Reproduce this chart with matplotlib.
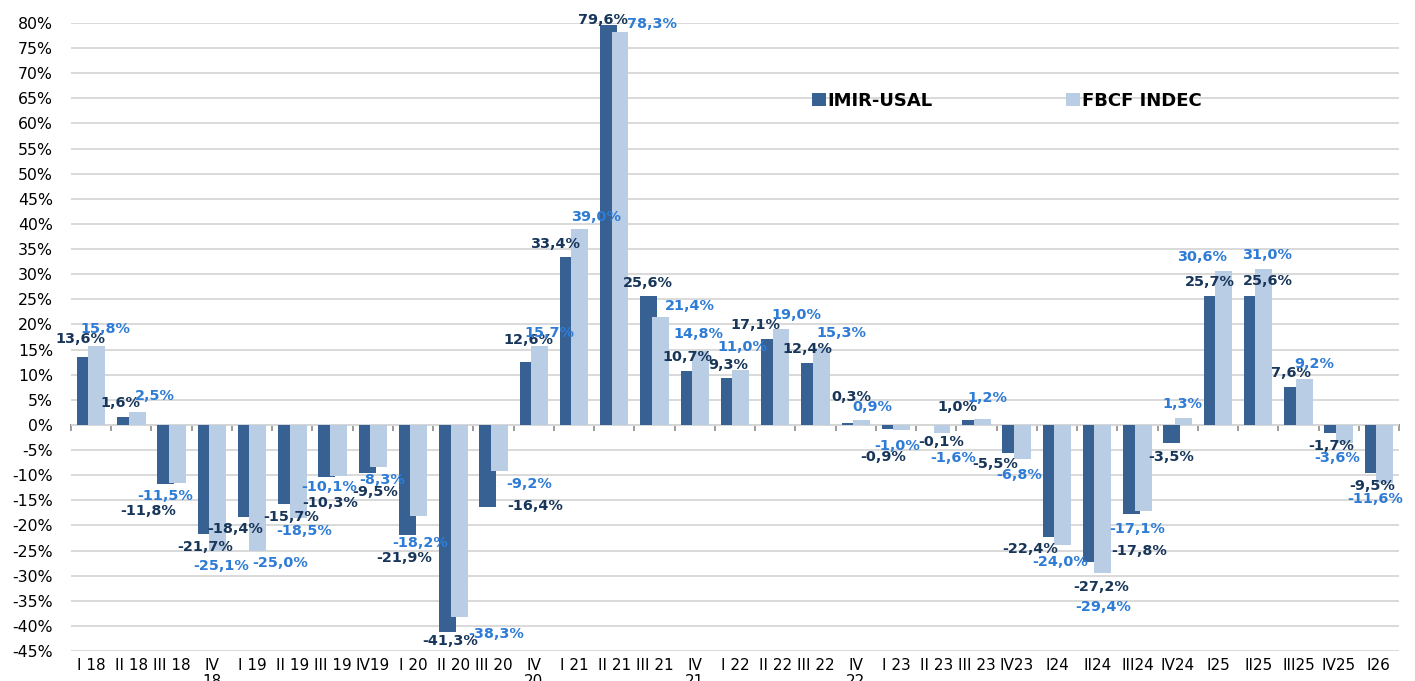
import numpy as np
import matplotlib
matplotlib.use("Agg")
import matplotlib.pyplot as plt

# quarters and year-on-year change (%)
quarters = ["I 18", "II 18", "III 18", "IV\n18", "I 19", "II 19", "III 19", "IV19",
            "I 20", "II 20", "III 20", "IV\n20", "I 21", "II 21", "III 21", "IV\n21",
            "I 22", "II 22", "III 22", "IV\n22", "I 23", "II 23", "III 23", "IV23",
            "I24", "II24", "III24", "IV24", "I25", "II25", "III25", "IV25", "I26"]

imir_usal = [13.6, 1.6, -11.8, -21.7, -18.4, -15.7, -10.3, -9.5,
             -21.9, -41.3, -16.4, 12.6, 33.4, 79.6, 25.6, 10.7,
             9.3, 17.1, 12.4, 0.3, -0.9, -0.1, 1.0, -5.5,
             -22.4, -27.2, -17.8, -3.5, 25.7, 25.6, 7.6, -1.7, -9.5]

fbcf_indec = [15.8, 2.5, -11.5, -25.1, -25.0, -18.5, -10.1, -8.3,
              -18.2, -38.3, -9.2, 15.7, 39.0, 78.3, 21.4, 14.8,
              11.0, 19.0, 15.3, 0.9, -1.0, -1.6, 1.2, -6.8,
              -24.0, -29.4, -17.1, 1.3, 30.6, 31.0, 9.2, -3.6, -11.6]

y_ticks = list(range(-45, 81, 5))

# label offsets from the bar end, in pixels (dx, dy up)
imir_offsets = [(-5, 18), (-5, 14), (-18, -27), (-1, -13), (-11, -12), (5, -13), (3, -26), (8, -19),
                (-3, -23), (3, -9), (47, 1), (0, 22), (-13, 13), (-6, 5), (-1, 13), (-2, 14),
                (-1, 13), (-14, 14), (-2, 14), (1, 26), (-7, -28), (11, -17), (-13, 13), (-16, -11),
                (-21, -12), (10, -25), (8, -37), (-1, -14), (-2, 14), (15, 15), (-2, 14), (-2, -13), (-1, -13)]
fbcf_offsets = [(9, 17), (18, 16), (-12, -13), (4, -15), (22, -12), (6, -13), (-9, -11), (4, -13),
                (1, -27), (37, -17), (30, -13), (10, 13), (16, 12), (32, 8), (30, 11), (-2, 17),
                (2, 23), (15, 14), (20, 15), (11, 13), (-5, -16), (11, -25), (5, 21), (-3, -16),
                (-3, -17), (0, -34), (-6, -18), (-1, 14), (-22, 14), (3, 14), (10, 15), (-7, -15), (-9, -16)]

DARK = "#376093"
LIGHT = "#B9CDE5"
DARK_TXT = "#18365A"
LIGHT_TXT = "#2E7CD6"


def pct(v):
    return f"{v:.1f}%".replace(".", ",")


fig = plt.figure(figsize=(14.15, 6.81), dpi=100)
ax = fig.add_axes([71 / 1415, 1 - 651 / 681, 1328 / 1415, 628 / 681])

x = np.arange(len(quarters))
off = 0.143
w = 0.42

ax.bar(x - off, imir_usal, width=w, color=DARK, zorder=2, label="IMIR-USAL")
ax.bar(x + off, fbcf_indec, width=w, color=LIGHT, zorder=3, label="FBCF INDEC")

for i, (v, (dx, dy)) in enumerate(zip(imir_usal, imir_offsets)):
    ax.annotate(pct(v), (i - off, v), xytext=(dx, dy), textcoords="offset pixels",
                ha="center", va="center", fontsize=10.4, fontweight="bold",
                color=DARK_TXT, zorder=5)
for i, (v, (dx, dy)) in enumerate(zip(fbcf_indec, fbcf_offsets)):
    ax.annotate(pct(v), (i + off, v), xytext=(dx, dy), textcoords="offset pixels",
                ha="center", va="center", fontsize=10.4, fontweight="bold",
                color=LIGHT_TXT, zorder=5)

ax.set_xlim(-0.5, len(quarters) - 0.5)
ax.set_ylim(-45, 80)

ax.set_yticks(y_ticks)
ax.set_yticklabels([f"{t}%" for t in y_ticks])
ax.set_xticks(x)
ax.set_xticklabels(quarters, linespacing=1.05)
ax.tick_params(axis="y", length=0, pad=13, labelsize=11.3)
ax.tick_params(axis="x", length=0, pad=5, labelsize=11)

ax.grid(axis="y", color="#D9D9D9", linewidth=1.4, zorder=0)
ax.set_axisbelow(True)
for s in ax.spines.values():
    s.set_visible(False)

# category axis drawn at 0 with ticks between quarters
zero = ax.secondary_xaxis(45 / 125)
zero.set_xticks(np.arange(len(quarters) + 1) - 0.5)
zero.tick_params(axis="x", length=4, width=1.2, color="#8C8C8C", labelbottom=False, direction="out")
zero.spines["bottom"].set_color("#8C8C8C")
zero.spines["bottom"].set_linewidth(1.4)
for k in ("top", "left", "right"):
    zero.spines[k].set_visible(False)

leg = ax.legend(ncol=2, loc="center left", bbox_to_anchor=(812 / 1415, 1 - 101 / 681),
                bbox_transform=fig.transFigure, frameon=False, borderpad=0, borderaxespad=0,
                handlelength=0.75, handleheight=0.75, handletextpad=0.12, columnspacing=7.4,
                prop={"weight": "bold", "size": 13})

fig.savefig("out.png", dpi=100)
